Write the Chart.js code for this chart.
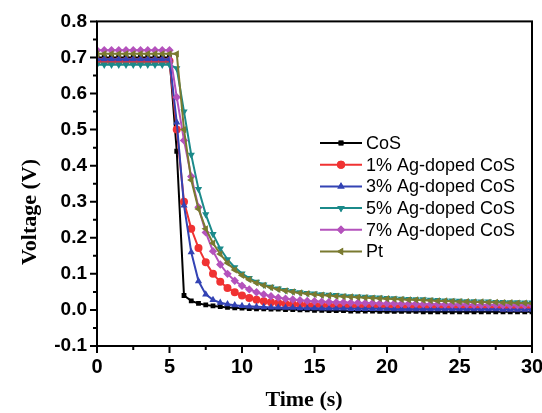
<!DOCTYPE html>
<html>
<head>
<meta charset="utf-8">
<script src="https://cdn.jsdelivr.net/npm/chart.js@4.4.1/dist/chart.umd.min.js"></script>
<style>
    body { margin: 0; background: #fff; }
    #wrap { width: 542px; height: 413px; }
</style>
</head>
<body>
<div id="wrap"><canvas id="voltageChart"></canvas></div>
<script>
// tempo (s), amostras a cada 0.5 s
var times = [0, 0.5, 1, 1.5, 2, 2.5, 3, 3.5, 4, 4.5, 5, 5.5, 6, 6.5, 7, 7.5, 8, 8.5, 9, 9.5,
    10, 10.5, 11, 11.5, 12, 12.5, 13, 13.5, 14, 14.5, 15, 15.5, 16, 16.5, 17, 17.5, 18, 18.5, 19, 19.5,
    20, 20.5, 21, 21.5, 22, 22.5, 23, 23.5, 24, 24.5, 25, 25.5, 26, 26.5, 27, 27.5, 28, 28.5, 29, 29.5, 30];

var cos = [0.70, 0.70, 0.70, 0.70, 0.70, 0.70, 0.70, 0.70, 0.70, 0.70, 0.70,
    0.44, 0.04, 0.025, 0.018, 0.014, 0.011, 0.009, 0.007, 0.006, 0.005,
    0.004, 0.003, 0.003, 0.002, 0.002, 0.001, 0.001, 0.0, 0.0, -0.001,
    -0.001, -0.002, -0.002, -0.002, -0.003, -0.003, -0.003, -0.003, -0.004, -0.004,
    -0.004, -0.004, -0.004, -0.004, -0.005, -0.005, -0.005, -0.005, -0.005, -0.005,
    -0.005, -0.005, -0.005, -0.005, -0.005, -0.005, -0.005, -0.005, -0.005, -0.005];

var ag1 = [0.69, 0.69, 0.69, 0.69, 0.69, 0.69, 0.69, 0.69, 0.69, 0.69, 0.69,
    0.50, 0.30, 0.225, 0.172, 0.132, 0.10, 0.078, 0.061, 0.049, 0.04,
    0.033, 0.028, 0.024, 0.021, 0.019, 0.017, 0.016, 0.015, 0.014, 0.013,
    0.013, 0.012, 0.012, 0.011, 0.011, 0.011, 0.010, 0.010, 0.010, 0.010,
    0.009, 0.009, 0.009, 0.009, 0.009, 0.008, 0.008, 0.008, 0.008, 0.008,
    0.008, 0.008, 0.008, 0.008, 0.008, 0.007, 0.007, 0.007, 0.007, 0.007];

var ag3 = [0.695, 0.695, 0.695, 0.695, 0.695, 0.695, 0.695, 0.695, 0.695, 0.695, 0.695,
    0.52, 0.29, 0.16, 0.08, 0.043, 0.028, 0.02, 0.016, 0.013, 0.011,
    0.010, 0.009, 0.008, 0.007, 0.007, 0.006, 0.006, 0.005, 0.005, 0.005,
    0.004, 0.004, 0.004, 0.004, 0.003, 0.003, 0.003, 0.003, 0.003, 0.003,
    0.002, 0.002, 0.002, 0.002, 0.002, 0.002, 0.002, 0.002, 0.002, 0.002,
    0.002, 0.002, 0.002, 0.002, 0.002, 0.001, 0.001, 0.001, 0.001, 0.001];

var ag5 = [0.68, 0.68, 0.68, 0.68, 0.68, 0.68, 0.68, 0.68, 0.68, 0.68, 0.68,
    0.67, 0.55, 0.43, 0.335, 0.265, 0.21, 0.17, 0.14, 0.118, 0.101,
    0.088, 0.078, 0.07, 0.064, 0.059, 0.055, 0.052, 0.049, 0.047, 0.045,
    0.043, 0.042, 0.041, 0.039, 0.038, 0.037, 0.036, 0.035, 0.034, 0.033,
    0.032, 0.031, 0.030, 0.029, 0.029, 0.028, 0.027, 0.026, 0.026, 0.025,
    0.024, 0.024, 0.023, 0.023, 0.022, 0.022, 0.021, 0.021, 0.020, 0.020];

var ag7 = [0.72, 0.72, 0.72, 0.72, 0.72, 0.72, 0.72, 0.72, 0.72, 0.72, 0.72,
    0.59, 0.47, 0.37, 0.285, 0.215, 0.163, 0.126, 0.10, 0.081, 0.067,
    0.057, 0.049, 0.043, 0.038, 0.034, 0.031, 0.029, 0.027, 0.025, 0.024,
    0.023, 0.022, 0.021, 0.021, 0.020, 0.020, 0.019, 0.019, 0.018, 0.018,
    0.018, 0.017, 0.017, 0.017, 0.016, 0.016, 0.016, 0.015, 0.015, 0.015,
    0.015, 0.014, 0.014, 0.014, 0.014, 0.013, 0.013, 0.013, 0.013, 0.013];

var pt = [0.71, 0.71, 0.71, 0.71, 0.71, 0.71, 0.71, 0.71, 0.71, 0.71, 0.71,
    0.71, 0.50, 0.36, 0.28, 0.225, 0.185, 0.155, 0.13, 0.111, 0.096,
    0.084, 0.075, 0.068, 0.062, 0.057, 0.053, 0.05, 0.047, 0.045, 0.043,
    0.041, 0.040, 0.038, 0.037, 0.036, 0.035, 0.034, 0.033, 0.032, 0.031,
    0.030, 0.029, 0.028, 0.028, 0.027, 0.026, 0.025, 0.025, 0.024, 0.023,
    0.023, 0.022, 0.022, 0.021, 0.021, 0.020, 0.020, 0.019, 0.019, 0.018];

var seriesNames = ['CoS', '1% Ag-doped CoS', '3% Ag-doped CoS', '5% Ag-doped CoS', '7% Ag-doped CoS', 'Pt'];
var seriesValues = [cos, ag1, ag3, ag5, ag7, pt];
var colors = ['#000000', '#f03232', '#3343b4', '#1b8a8a', '#b452bc', '#7a7a30'];
var markers = ['rect', 'circle', 'triangle', 'triangle', 'rectRot', 'triangle'];
var rotations = [0, 0, 0, 180, 0, -90];
var radii = [3.4, 4, 4.2, 4.2, 4.2, 4.2];

var xTicks = [0, 5, 10, 15, 20, 25, 30];
var yTicks = [-0.1, 0.0, 0.1, 0.2, 0.3, 0.4, 0.5, 0.6, 0.7, 0.8];
var xTitle = 'Time (s)';
var yTitle = 'Voltage (V)';

function toPoints(values) {
    var pts = [];
    for (var i = 0; i < values.length; i++) {
        pts.push({ x: times[i], y: values[i] });
    }
    return pts;
}

var datasets = [];
for (var i = 0; i < seriesNames.length; i++) {
    datasets.push({
        label: seriesNames[i],
        data: toPoints(seriesValues[i]),
        borderColor: colors[i],
        backgroundColor: colors[i],
        borderWidth: 2,
        pointStyle: markers[i],
        pointRotation: rotations[i],
        pointRadius: radii[i],
        pointBorderWidth: 0,
        order: seriesNames.length - i,
        tension: 0
    });
}

function drawMarker(ctx, style, rotation, radius, x, y) {
    if (Chart.helpers && Chart.helpers.drawPoint) {
        Chart.helpers.drawPoint(ctx, { pointStyle: style, rotation: rotation, radius: radius, borderWidth: 0 }, x, y);
        ctx.fill();
    }
}

// moldura, ticks maiores/menores, títulos e legenda desenhados à mão
var framePlugin = {
    id: 'frame',
    afterDatasetsDraw: function (chart) {
        var ctx = chart.ctx;
        var area = chart.chartArea;
        var xs = chart.scales.x;
        var ys = chart.scales.y;
        ctx.save();
        ctx.strokeStyle = '#000';
        ctx.lineWidth = 2;
        ctx.strokeRect(area.left, area.top, area.right - area.left, area.bottom - area.top);

        ctx.beginPath();
        for (var v = 0; v <= 30; v += 2.5) {
            var px = xs.getPixelForValue(v);
            var len = (v % 5 == 0) ? 7 : 4;
            ctx.moveTo(px, area.bottom);
            ctx.lineTo(px, area.bottom + len);
        }
        for (var k = -2; k <= 16; k++) {
            var py = ys.getPixelForValue(k * 0.05);
            var len2 = (k % 2 == 0) ? 7 : 4;
            ctx.moveTo(area.left, py);
            ctx.lineTo(area.left - len2, py);
        }
        ctx.stroke();

        // títulos dos eixos
        ctx.fillStyle = '#000';
        ctx.font = 'bold 22px "Liberation Serif", "Times New Roman", serif';
        ctx.textAlign = 'center';
        ctx.textBaseline = 'middle';
        ctx.fillText(xTitle, 304, 400);
        ctx.save();
        ctx.translate(30, 212);
        ctx.rotate(-Math.PI / 2);
        ctx.fillText(yTitle, 0, 0);
        ctx.restore();

        // legenda
        var lx = 320, ly = 143;
        ctx.font = '18px "Liberation Sans", Arial, sans-serif';
        ctx.textBaseline = 'middle';
        ctx.textAlign = 'left';
        for (var i = 0; i < seriesNames.length; i++) {
            var y = ly + i * 21.7;
            ctx.strokeStyle = colors[i];
            ctx.fillStyle = colors[i];
            ctx.lineWidth = 2;
            ctx.beginPath();
            ctx.moveTo(lx, y);
            ctx.lineTo(lx + 42, y);
            ctx.stroke();
            drawMarker(ctx, markers[i], rotations[i], radii[i], lx + 21, y);
            ctx.fillStyle = '#000';
            ctx.fillText(seriesNames[i], lx + 46, y + 1);
        }
        ctx.restore();
    }
};

var context = document.getElementById('voltageChart').getContext('2d');
var voltageChart = new Chart(context, {
    type: 'line',
    data: { datasets: datasets },
    options: {
        responsive: true,
        maintainAspectRatio: false,
        animation: false,
        layout: { padding: { top: 21, right: 10, left: 0, bottom: 0 } },
        plugins: {
            legend: { display: false },
            tooltip: { enabled: false }
        },
        scales: {
            x: {
                type: 'linear',
                min: 0,
                max: 30,
                afterFit: function (scale) {
                    scale.height = 67;
                    scale.paddingLeft = 0;
                    scale.paddingRight = 0;
                },
                afterBuildTicks: function (scale) {
                    scale.ticks = xTicks.map(function (v) { return { value: v }; });
                },
                grid: { display: false, drawTicks: false },
                border: { display: false },
                ticks: {
                    padding: 9,
                    color: '#000',
                    font: { family: '"Liberation Sans", Arial, sans-serif', size: 20, weight: 'bold' },
                    maxRotation: 0
                },
                title: { display: false }
            },
            y: {
                min: -0.1,
                max: 0.8,
                afterFit: function (scale) { scale.width = 97; },
                afterBuildTicks: function (scale) {
                    scale.ticks = yTicks.map(function (v) { return { value: v }; });
                },
                grid: { display: false, drawTicks: false },
                border: { display: false },
                ticks: {
                    padding: 10,
                    color: '#000',
                    font: { family: '"Liberation Sans", Arial, sans-serif', size: 19, weight: 'bold' },
                    callback: function (value) { return value.toFixed(1); }
                },
                title: { display: false }
            }
        }
    },
    plugins: [framePlugin]
});
</script>
</body>
</html>
